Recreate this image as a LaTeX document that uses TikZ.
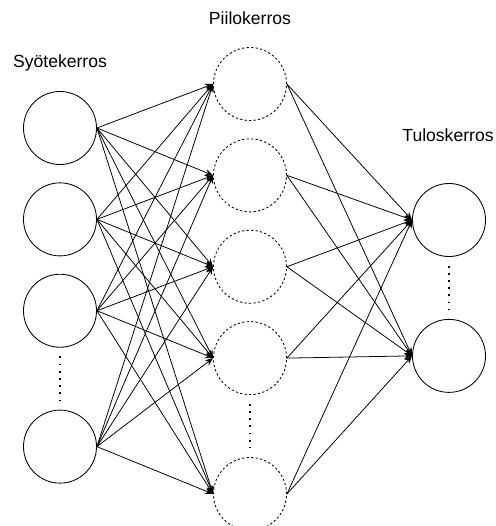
\documentclass[tikz,border=0pt]{standalone}
\usepackage{fontspec}
\setmainfont{Liberation Sans}
\usetikzlibrary{arrows.meta,positioning}
\tikzset{
  unit/.style={draw=black,circle,line width=0.6pt,minimum size=1.825cm,inner sep=0pt},
  hidden/.style={unit,dash pattern=on 1.6pt off 1.6pt},
  layer/.style={font=\fontsize{12.5}{15}\selectfont,inner sep=0pt},
  arrow/.style={-{Stealth[length=2mm,width=1.6mm]},line width=0.55pt},
  dots/.style={line width=1.3pt,dash pattern=on 1.3pt off 3.8pt,shorten <=2.2mm,shorten >=2.2mm}
}

\begin{document}
\begin{tikzpicture}[x=0.025cm,y=-0.025cm,node distance=0.4375cm]
  \useasboundingbox (0,0) rectangle (495,526);
  % input layer
  \node[unit] (i1) at (60,128) {};
  \node[unit,below=of i1] (i2) {};
  \node[unit,below=of i2] (i3) {};
  \node[unit,below=1.55cm of i3] (i4) {};
  % hidden layer
  \node[hidden] (h1) at (250,84) {};
  \node[hidden,below=of h1] (h2) {};
  \node[hidden,below=of h2] (h3) {};
  \node[hidden,below=of h3] (h4) {};
  \node[hidden,below=1.55cm of h4] (h5) {};
  % output layer
  \node[unit] (o1) at (449,220) {};
  \node[unit,below=1.55cm of o1] (o2) {};
  % labels
  \node[layer] (lin) at (60,63) {Syötekerros};
  \node[layer] (lhid) at (250,18) {Piilokerros};
  \node[layer] (lout) at (448,135) {Tuloskerros};
  % dotted gaps
  \draw[dots] (i3) -- (i4);
  \draw[dots] (h4) -- (h5);
  \draw[dots] (o1) -- (o2);
  % connections
  \foreach \i in {1,...,4}
    \foreach \h in {1,...,5}
      \draw[arrow] (i\i.east) -- (h\h.west);
  \foreach \h in {1,...,5}
    \foreach \o in {1,2}
      \draw[arrow] (h\h.east) -- (o\o.west);
\end{tikzpicture}
\end{document}
